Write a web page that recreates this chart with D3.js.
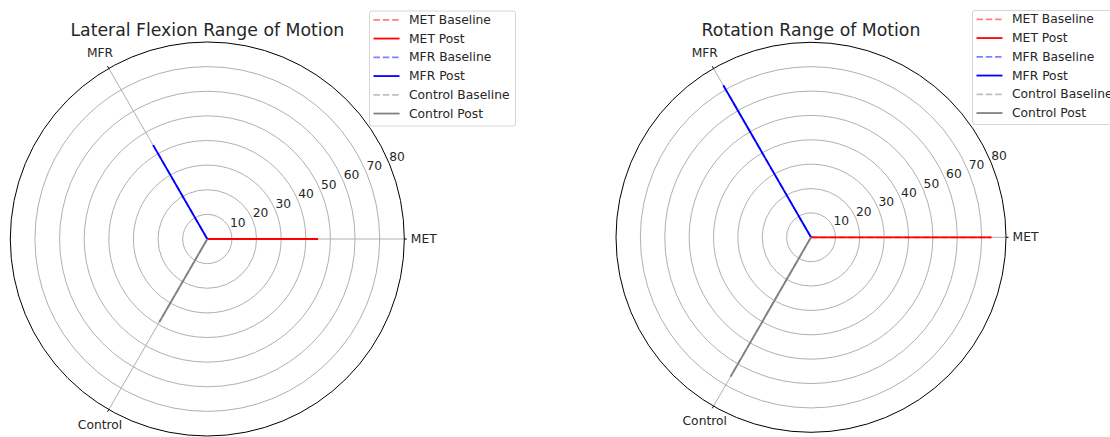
<!DOCTYPE html>
<html>
<head>
<meta charset="utf-8">
<style>
  body { margin: 0; background: #fff; }
  svg { display: block; font-family: "DejaVu Sans", sans-serif; }
</style>
</head>
<body>
<svg width="1110" height="437"></svg>
<script src="https://cdn.jsdelivr.net/npm/d3@7"></script>
<script>
// values
var categories = ["MET", "MFR", "Control"];
var radialTicks = [10, 20, 30, 40, 50, 60, 70, 80];

var lateralBaseline = [45, 44, 39];
var lateralPost = [45, 44, 39];
var rotationBaseline = [74, 72, 66];
var rotationPost = [74, 72, 66];

var legendLabels = ["MET Baseline", "MET Post", "MFR Baseline", "MFR Post", "Control Baseline", "Control Post"];
var groupColors = ["#ff0000", "#0000ff", "#808080"];

var svg = d3.select("svg");

function drawPolar(opt) {
    var g = svg.append("g");
    var r = d3.scaleLinear().domain([0, 80]).range([0, opt.R]);
    var angle = d3.scaleLinear().domain([0, categories.length]).range([0, 2 * Math.PI]);

    function px(i, v) { return opt.cx + r(v) * Math.cos(angle(i)); }
    function py(i, v) { return opt.cy - r(v) * Math.sin(angle(i)); }

    // rings
    g.selectAll(".ring").data(radialTicks.slice(0, -1)).enter().append("circle")
        .attr("cx", opt.cx).attr("cy", opt.cy)
        .attr("r", function(d) { return r(d); })
        .attr("fill", "none").attr("stroke", "#b0b0b0").attr("stroke-width", 1);

    // spokes
    g.selectAll(".spoke").data(categories).enter().append("line")
        .attr("x1", opt.cx).attr("y1", opt.cy)
        .attr("x2", function(d, i) { return px(i, 80); })
        .attr("y2", function(d, i) { return py(i, 80); })
        .attr("stroke", "#b0b0b0").attr("stroke-width", 1);

    // outer spine
    g.append("circle")
        .attr("cx", opt.cx).attr("cy", opt.cy).attr("r", r(80))
        .attr("fill", "none").attr("stroke", "#000").attr("stroke-width", 1);

    // series: baseline dashed first, post solid on top
    categories.forEach(function(c, i) {
        g.append("line")
            .attr("x1", opt.cx).attr("y1", opt.cy)
            .attr("x2", px(i, opt.baseline[i])).attr("y2", py(i, opt.baseline[i]))
            .attr("stroke", groupColors[i]).attr("stroke-opacity", 0.5)
            .attr("stroke-width", 1.8).attr("stroke-dasharray", "6.5,2.8");
        g.append("line")
            .attr("x1", opt.cx).attr("y1", opt.cy)
            .attr("x2", px(i, opt.post[i])).attr("y2", py(i, opt.post[i]))
            .attr("stroke", groupColors[i]).attr("stroke-width", 1.8);
    });

    // theta ticks and labels
    categories.forEach(function(c, i) {
        g.append("line")
            .attr("x1", px(i, 80)).attr("y1", py(i, 80))
            .attr("x2", opt.cx + (opt.R + 2.5) * Math.cos(angle(i)))
            .attr("y2", opt.cy - (opt.R + 2.5) * Math.sin(angle(i)))
            .attr("stroke", "#000").attr("stroke-width", 1);
        var lr = opt.R + 17.5;
        g.append("text")
            .attr("x", opt.cx + lr * Math.cos(angle(i)) + (i === 0 ? 2 : 0))
            .attr("y", opt.cy - lr * Math.sin(angle(i)))
            .attr("text-anchor", "middle").attr("dominant-baseline", "central")
            .attr("font-size", "12.3px").attr("fill", "#262626")
            .text(c);
    });

    // radial tick labels at 22.5 degrees
    var a = 22.5 * Math.PI / 180;
    g.selectAll(".rlab").data(radialTicks).enter().append("text")
        .attr("x", function(d) { return opt.cx + r(d) * Math.cos(a); })
        .attr("y", function(d) { return opt.cy - r(d) * Math.sin(a) - 3; })
        .attr("font-size", "12.3px").attr("fill", "#262626")
        .text(function(d) { return d; });

    // title
    g.append("text")
        .attr("x", opt.cx).attr("y", 35.5)
        .attr("text-anchor", "middle")
        .attr("font-size", "17.3px").attr("fill", "#262626")
        .text(opt.title);

    // legend
    var lg = svg.append("g").attr("transform", "translate(" + opt.lx + "," + opt.ly + ")");
    lg.append("rect")
        .attr("x", 0.5).attr("y", 0.5).attr("width", 146).attr("height", opt.lh)
        .attr("rx", 2.5)
        .attr("fill", "#fff").attr("fill-opacity", 0.8)
        .attr("stroke", "#d6d6d6").attr("stroke-width", 1);
    legendLabels.forEach(function(lab, k) {
        var y = 9.3 + k * 18.75;
        var col = groupColors[Math.floor(k / 2)];
        var base = k % 2 === 0;
        lg.append("line")
            .attr("x1", 4.5).attr("x2", 30.5).attr("y1", y).attr("y2", y)
            .attr("stroke", col).attr("stroke-opacity", base ? 0.5 : 1)
            .attr("stroke-width", 1.8)
            .attr("stroke-dasharray", base ? "6.5,2.8" : null);
        lg.append("text")
            .attr("x", 40).attr("y", y).attr("dominant-baseline", "central")
            .attr("font-size", "12.3px").attr("fill", "#262626")
            .text(lab);
    });
}

drawPolar({
    cx: 207.3, cy: 239, R: 197,
    title: "Lateral Flexion Range of Motion",
    baseline: lateralBaseline, post: lateralPost,
    lx: 369, ly: 10.5, lh: 115
});

drawPolar({
    cx: 811, cy: 237.3, R: 195,
    title: "Rotation Range of Motion",
    baseline: rotationBaseline, post: rotationPost,
    lx: 972, ly: 10, lh: 114
});
</script>
</body>
</html>
